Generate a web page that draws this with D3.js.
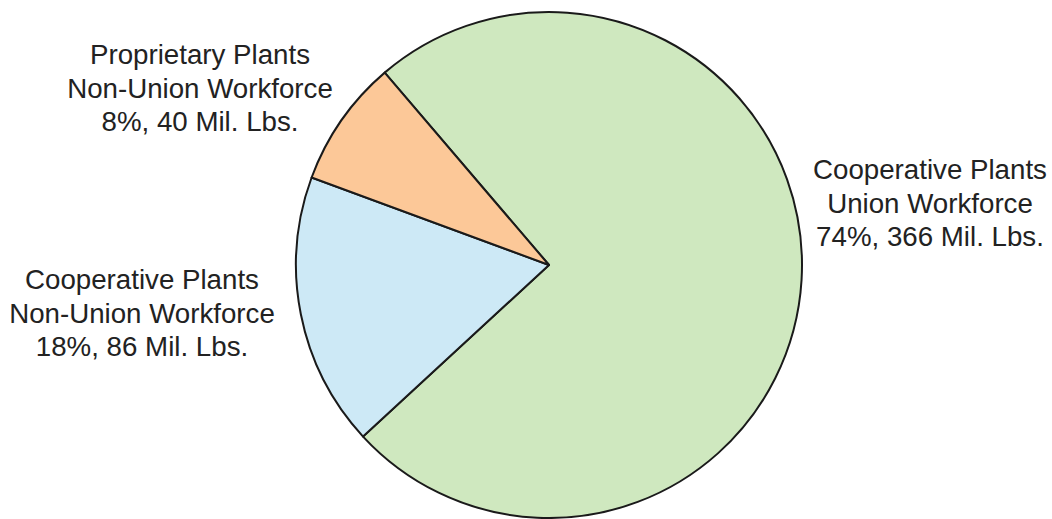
<!DOCTYPE html>
<html>
<head>
<meta charset="utf-8">
<script src="https://cdn.jsdelivr.net/npm/d3@7"></script>
<style>
  html, body { margin: 0; padding: 0; background: #fff; }
  svg { display: block; }
</style>
</head>
<body>
<svg id="chart" width="1052" height="519"></svg>
<script>
// Data
const categories = [
  "Cooperative Plants Union Workforce",
  "Cooperative Plants Non-Union Workforce",
  "Proprietary Plants Non-Union Workforce"
];
const values = [366, 86, 40];
const percents = [74, 18, 8];
const labelLines = [
  ["Cooperative Plants", "Union Workforce", "74%, 366 Mil. Lbs."],
  ["Cooperative Plants", "Non-Union Workforce", "18%, 86 Mil. Lbs."],
  ["Proprietary Plants", "Non-Union Workforce", "8%, 40 Mil. Lbs."]
];
const colors = ["#cfe8bf", "#cde9f6", "#fcc898"];

const svg = d3.select("#chart");
const cx = 549, cy = 265, r = 253;

const startDeg = 319.5;
const pie = d3.pie().sort(null).value(d => d)
  .startAngle(startDeg * Math.PI / 180)
  .endAngle((startDeg + 360) * Math.PI / 180);
const arcs = pie(values);
const arc = d3.arc().innerRadius(0).outerRadius(r);

const g = svg.append("g").attr("transform", `translate(${cx},${cy})`);
g.selectAll("path.slice")
  .data(arcs)
  .enter().append("path")
  .attr("class", "slice")
  .attr("d", arc)
  .attr("fill", (d, i) => colors[i])
  .attr("stroke", "#1a1a1a")
  .attr("stroke-width", 2)
  .attr("stroke-linejoin", "round");

// Labels (center x, first baseline)
const labelPos = [
  { x: 930, y: 179 },
  { x: 142, y: 289 },
  { x: 200, y: 64 }
];
const lineH = 33.5;
labelLines.forEach((lines, i) => {
  const t = svg.append("text")
    .attr("text-anchor", "middle")
    .attr("font-family", "'Liberation Sans', Arial, sans-serif")
    .attr("font-size", 27.7)
    .attr("fill", "#222");
  lines.forEach((ln, j) => {
    t.append("tspan")
      .attr("x", labelPos[i].x)
      .attr("y", labelPos[i].y + j * lineH)
      .text(ln);
  });
});
</script>
</body>
</html>
